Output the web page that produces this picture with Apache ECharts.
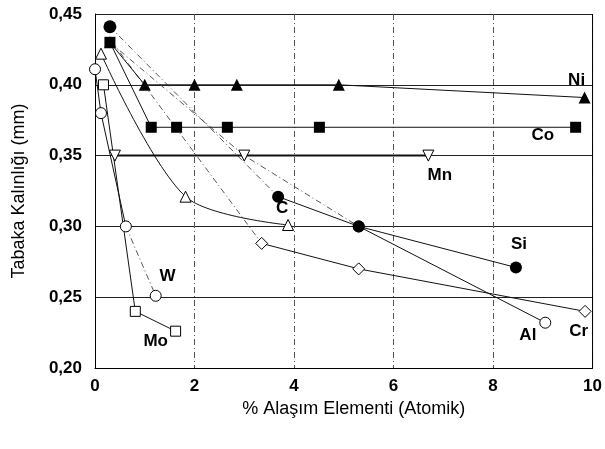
<!DOCTYPE html>
<html>
<head>
<meta charset="utf-8">
<script src="https://cdn.jsdelivr.net/npm/echarts@6/dist/echarts.min.js"></script>
<style>
  html, body { margin: 0; padding: 0; background: #fff; }
  #chart { width: 605px; height: 449px; }
</style>
</head>
<body>
<div id="chart"></div>
<script>
// Boride layer thickness vs. atomic % of alloying element
const yTicks = [0.20, 0.25, 0.30, 0.35, 0.40, 0.45];
const xTicks = [0, 2, 4, 6, 8, 10];

const niPoints = [[0.3, 0.43], [1.0, 0.40], [2.0, 0.40], [2.85, 0.40], [4.9, 0.40], [9.84, 0.391]];
const coPoints = [[0.3, 0.43], [1.13, 0.37], [1.64, 0.37], [2.66, 0.37], [4.51, 0.37], [9.66, 0.37]];
const mnPoints = [[0.4, 0.35], [3.0, 0.35], [6.7, 0.35]];
const mnLead = [[0.3, 0.43], [3.0, 0.35], [5.3, 0.30]];
const siStart = [[0.3, 0.441]];
const siLead = [[0.3, 0.441], [3.68, 0.321]];
const siPoints = [[3.68, 0.321], [5.3, 0.30], [8.46, 0.271]];
const alPoints = [[5.3, 0.30], [9.05, 0.232]];
const cPoints = [[0.12, 0.422], [1.82, 0.321], [3.88, 0.301]];
const crLead = [[0.35, 0.43], [3.35, 0.288]];
const crPoints = [[3.35, 0.288], [5.3, 0.27], [9.85, 0.24]];
const wPoints = [[0.0, 0.411], [0.12, 0.38], [0.62, 0.30]];
const wTail = [[0.62, 0.30], [1.22, 0.251]];
const moPoints = [[0.17, 0.40], [0.81, 0.24], [1.62, 0.226]];

const labelNames = ['Ni', 'Co', 'Mn', 'C', 'Si', 'Al', 'Cr', 'W', 'Mo'];
const labelSpots = [[9.68, 0.403], [9.0, 0.3645], [6.93, 0.336], [3.76, 0.313], [8.52, 0.287],
                    [8.7, 0.2233], [9.72, 0.2256], [1.46, 0.265], [1.22, 0.2186]];

const ink = '#000';
const font = 'Liberation Sans';
const hollow = { color: '#fff', borderColor: ink, borderWidth: 1, opacity: 1 };
const filled = { color: ink, opacity: 1 };

function solid(data, symbol, size, style, extra) {
  return Object.assign({
    type: 'line', data: data, symbol: symbol, symbolSize: size,
    itemStyle: style, lineStyle: { color: '#111', width: 1 }, z: 3, animation: false
  }, extra || {});
}
function dashDot(data) {
  return {
    type: 'line', data: data, symbol: 'none', z: 2, animation: false,
    lineStyle: { color: '#555', width: 1, type: [6, 3, 1, 3] }
  };
}

const chart = echarts.init(document.getElementById('chart'), null, { renderer: 'canvas' });
chart.setOption({
  backgroundColor: '#fff',
  grid: { left: 95, right: 6, top: 14, bottom: 81 },
  xAxis: {
    type: 'value', min: 0, max: 10, interval: 2,
    name: '% Alaşım Elementi (Atomik)', nameLocation: 'middle', nameGap: 31,
    nameTextStyle: { color: ink, fontFamily: font, fontSize: 18, padding: [0, 0, 0, 20] },
    axisLine: { lineStyle: { color: ink, width: 1 } },
    axisTick: { show: false },
    axisLabel: { color: ink, fontFamily: font, fontSize: 17, fontWeight: 'bold', margin: 10 },
    splitLine: { show: true, lineStyle: { color: '#555', width: 1, type: [6, 3, 1, 3] } }
  },
  yAxis: {
    type: 'value', min: 0.20, max: 0.45, interval: 0.05,
    name: 'Tabaka Kalınlığı (mm)', nameLocation: 'middle', nameGap: 67,
    nameTextStyle: { color: ink, fontFamily: font, fontSize: 18 },
    axisLine: { lineStyle: { color: ink, width: 1 } },
    axisTick: { show: false },
    axisLabel: {
      color: ink, fontFamily: font, fontSize: 17, fontWeight: 'bold', margin: 13,
      formatter: v => v.toFixed(2).replace('.', ',')
    },
    splitLine: { show: true, lineStyle: { color: '#222', width: 1 } }
  },
  series: [
    // right frame edge at x = 10
    { type: 'line', data: [[10, 0.20], [10, 0.45]], symbol: 'none', lineStyle: { color: ink, width: 1 }, z: 1, animation: false },
    dashDot(mnLead),
    dashDot(siLead),
    dashDot(crLead),
    dashDot(wTail),
    solid(niPoints, 'triangle', 12, filled),
    solid(coPoints, 'rect', 11, filled),
    solid(mnPoints, 'triangle', 11, hollow, { symbolRotate: 180, lineStyle: { color: '#111', width: 2 } }),
    solid(cPoints, 'triangle', 11, hollow, { smooth: 0.3 }),
    solid(crPoints, 'diamond', 12, hollow),
    solid(alPoints, 'circle', 11, hollow),
    solid(siPoints, 'circle', 12, filled),
    solid(siStart, 'circle', 13, filled),
    solid(wPoints, 'circle', 11, hollow),
    { type: 'scatter', data: wTail.slice(1), symbol: 'circle', symbolSize: 11, itemStyle: hollow, z: 4, animation: false },
    solid(moPoints, 'rect', 10, hollow),
    {
      type: 'scatter', symbolSize: 1, z: 5, animation: false,
      itemStyle: { opacity: 0 },
      data: labelNames.map((n, i) => ({ name: n, value: labelSpots[i] })),
      label: {
        show: true, position: 'inside', formatter: '{b}', opacity: 1,
        color: ink, fontFamily: font, fontSize: 17, fontWeight: 'bold'
      }
    }
  ]
});
</script>
</body>
</html>
